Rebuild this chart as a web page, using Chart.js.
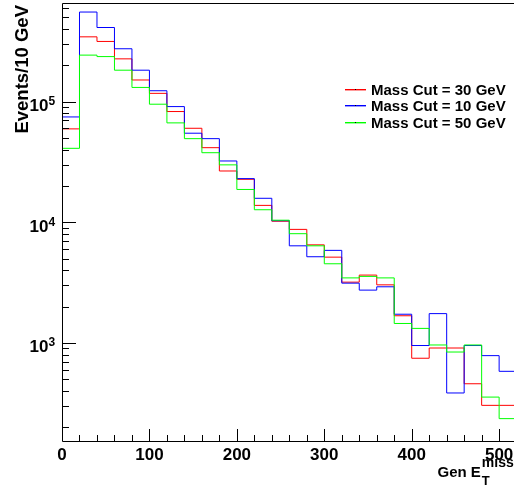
<!DOCTYPE html>
<html>
<head>
<meta charset="utf-8">
<script src="https://cdn.jsdelivr.net/npm/chart.js@4.4.0/dist/chart.umd.min.js"></script>
<style>
  html, body { margin: 0; padding: 0; background: #fff; }
  #met { display: block; }
</style>
</head>
<body>
<canvas id="met" width="514" height="493"></canvas>
<script>
// Gen MET, 20 GeV bins starting at 0
var BIN_WIDTH = 20;
var massCut30 = [59400, 344000, 315000, 226000, 151000, 117000, 82700, 60100, 41500, 26600,
                 22700, 13800, 10200, 8730, 6500, 5140, 3190, 3650, 3030, 1680,
                 747, 908, 908, 459, 304, 304];
var massCut10 = [74600, 552000, 411000, 274000, 182000, 123000, 90900, 54700, 49300, 32200,
                 23000, 15800, 10300, 6380, 5180, 5850, 3130, 2740, 2920, 1730,
                 952, 1750, 385, 952, 785, 582];
var massCut50 = [41000, 242700, 236000, 182000, 131000, 95100, 66600, 49300, 37700, 29900,
                 18700, 12700, 10400, 8040, 6380, 4530, 3460, 3560, 3460, 1450,
                 1320, 962, 841, 962, 356, 236];
var xTickLabels = [0, 100, 200, 300, 400, 500];
var yDecades = [3, 4, 5];

var FONT = '"Liberation Sans", Arial, Helvetica, sans-serif';

// histogram -> step points at the low bin edges plus the closing edge
function toSteps(counts) {
  var pts = counts.map(function(c, i) { return { x: i * BIN_WIDTH, y: c }; });
  pts.push({ x: counts.length * BIN_WIDTH, y: counts[counts.length - 1] });
  return pts;
}

function hist(label, counts, color, order) {
  return {
    label: label,
    data: toSteps(counts),
    borderColor: color,
    borderWidth: 1,
    stepped: "before",
    pointRadius: 0,
    fill: false,
    order: order
  };
}

var rootFrame = {
  id: "rootFrame",
  afterDraw: function(chart) {
    var ctx = chart.ctx;
    var xs = chart.scales.x, ys = chart.scales.y;
    var a = chart.chartArea;
    ctx.save();
    ctx.strokeStyle = "#000";
    ctx.lineWidth = 1;

    // frame
    ctx.beginPath();
    ctx.moveTo(a.left + 0.5, a.bottom + 0.5);
    ctx.lineTo(a.left + 0.5, a.top + 0.5);
    ctx.lineTo(a.right + 5, a.top + 0.5);
    ctx.moveTo(a.left + 0.5, a.bottom + 0.5);
    ctx.lineTo(a.right + 5, a.bottom + 0.5);
    ctx.stroke();

    // x ticks: major every 100, minor every 20
    ctx.beginPath();
    for (var v = 0; v <= 600; v += BIN_WIDTH) {
      var px = Math.round(xs.getPixelForValue(v)) + 0.5;
      if (px > a.right + 1) break;
      var len = (v % 100 === 0) ? 12 : 6;
      ctx.moveTo(px, a.bottom);
      ctx.lineTo(px, a.bottom - len);
    }
    ctx.stroke();

    // y ticks: decades long, 2..9 short
    ctx.beginPath();
    for (var d = 2; d <= 5; d++) {
      for (var m = 1; m <= 9; m++) {
        var val = m * Math.pow(10, d);
        if (val < ys.min || val > ys.max) continue;
        var py = Math.round(ys.getPixelForValue(val)) + 0.5;
        ctx.moveTo(a.left, py);
        ctx.lineTo(a.left + (m === 1 ? 14 : 7), py);
      }
    }
    ctx.stroke();

    ctx.fillStyle = "#000";
    // x tick labels
    ctx.font = "bold 17px " + FONT;
    ctx.textAlign = "center";
    ctx.textBaseline = "alphabetic";
    xTickLabels.forEach(function(t) {
      ctx.fillText(String(t), xs.getPixelForValue(t), a.bottom + 19);
    });

    // y tick labels 10^n
    yDecades.forEach(function(e) {
      var py = ys.getPixelForValue(Math.pow(10, e));
      ctx.font = "bold 17px " + FONT;
      ctx.textAlign = "right";
      ctx.fillText("10", 48.5, py + 9.3);
      ctx.font = "bold 12px " + FONT;
      ctx.textAlign = "left";
      ctx.fillText(String(e), 48.5, py + 3.5);
    });

    // y axis title
    ctx.save();
    ctx.translate(28, 5);
    ctx.rotate(-Math.PI / 2);
    ctx.font = "bold 18.5px " + FONT;
    ctx.textAlign = "right";
    ctx.fillText("Events/10 GeV", 0, 0);
    ctx.restore();

    // x axis title Gen E_T^miss
    ctx.textAlign = "left";
    ctx.font = "bold 15px " + FONT;
    var x0 = 437.5;
    ctx.fillText("Gen E", x0, 477.3);
    var w = ctx.measureText("Gen E").width;
    ctx.font = "bold 13px " + FONT;
    ctx.fillText("T", x0 + w + 1, 484.5);
    ctx.font = "bold 14px " + FONT;
    ctx.fillText("miss", x0 + w + 1, 466.7);

    // legend: coloured line with a small black marker in the middle
    var rowY = [89, 105, 122];
    ctx.font = "bold 15px " + FONT;
    chart.data.datasets.forEach(function(ds, i) {
      var y = rowY[i];
      ctx.fillStyle = ds.borderColor;
      ctx.fillRect(345, y, 21, 1);
      ctx.globalAlpha = 0.4;
      ctx.fillRect(345, y + 1, 21, 1);
      ctx.globalAlpha = 1;
      ctx.fillStyle = "#000";
      ctx.fillRect(355, y, 1, 1);
      ctx.fillText(ds.label, 371, y + 5.5);
    });
    ctx.restore();
  }
};

new Chart(document.getElementById("met").getContext("2d"), {
  type: "line",
  data: {
    datasets: [
      hist("Mass Cut = 30 GeV", massCut30, "#ff0000", 2),
      hist("Mass Cut = 10 GeV", massCut10, "#0000ff", 1),
      hist("Mass Cut = 50 GeV", massCut50, "#00ff00", 0)
    ]
  },
  options: {
    responsive: false,
    animation: false,
    devicePixelRatio: 1,
    layout: { padding: { left: 62, top: 3, right: 0, bottom: 52 } },
    plugins: { legend: { display: false }, tooltip: { enabled: false } },
    scales: {
      x: { type: "linear", min: 0, max: 517, display: false },
      y: { type: "logarithmic", min: 154, max: 656000, display: false }
    }
  },
  plugins: [rootFrame]
});
</script>
</body>
</html>
